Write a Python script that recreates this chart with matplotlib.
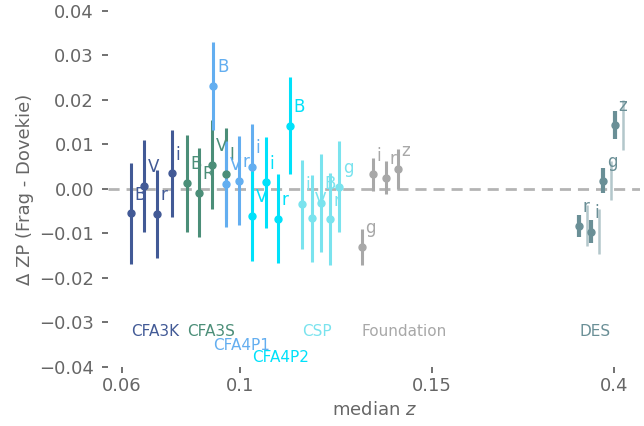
import numpy as np
import matplotlib.pyplot as plt
from matplotlib.transforms import ScaledTranslation

# per-survey zero-point offsets (Frag - Dovekie) vs median redshift
cfa3k_bands = ['B', 'V', 'r', 'i']
cfa3k_z = [0.0631, 0.0676, 0.0720, 0.0769]
cfa3k_dzp = [-0.0055, 0.0007, -0.0056, 0.0035]
cfa3k_err = [0.0114, 0.0103, 0.0098, 0.0098]

cfa3s_bands = ['B', 'R', 'V', 'I']
cfa3s_z = [0.0820, 0.0862, 0.0906, 0.0952]
cfa3s_dzp = [0.0013, -0.0008, 0.0055, 0.0034]
cfa3s_err = [0.0109, 0.0100, 0.0099, 0.0102]

cfa4p1_bands = ['B', 'V', 'r', 'i']
cfa4p1_z = [0.0910, 0.0953, 0.0997, 0.1032]
cfa4p1_dzp = [0.0232, 0.0011, 0.0018, 0.0049]
cfa4p1_err = [0.0099, 0.0097, 0.0100, 0.0097]

cfa4p2_bands = ['V', 'i', 'r', 'B']
cfa4p2_z = [0.1032, 0.1067, 0.1098, 0.1130]
cfa4p2_dzp = [-0.0060, 0.0015, -0.0067, 0.0142]
cfa4p2_err = [0.0101, 0.0102, 0.0100, 0.0109]

csp_bands = ['i', 'V', 'B', 'r', 'g']
csp_z = [0.1162, 0.1187, 0.1210, 0.1234, 0.1259]
csp_dzp = [-0.0034, -0.0066, -0.0031, -0.0068, 0.0005]
csp_err = [0.0100, 0.0098, 0.0110, 0.0103, 0.0102]

found_bands = ['g', 'i', 'r', 'z']
found_z = [0.1317, 0.1347, 0.1379, 0.1411]
found_dzp = [-0.0130, 0.0033, 0.0025, 0.0044]
found_err = [0.0040, 0.0037, 0.0037, 0.0045]

des_bands = ['r', 'i', 'g', 'z']
des_z = [0.3523, 0.3684, 0.3853, 0.4014]
des_dzp = [-0.0083, -0.0096, 0.0019, 0.0144]
des_err = [0.0024, 0.0026, 0.0029, 0.0032]
des_err_tot = [0.0046, 0.0051, 0.0043, 0.0057]

surveys = [
    ('CFA3K', cfa3k_z, cfa3k_dzp, cfa3k_err, cfa3k_bands, '#425a96', -0.0320),
    ('CFA3S', cfa3s_z, cfa3s_dzp, cfa3s_err, cfa3s_bands, '#4b8e78', -0.0320),
    ('CFA4P1', cfa4p1_z, cfa4p1_dzp, cfa4p1_err, cfa4p1_bands, '#63aef0', -0.0351),
    ('CFA4P2', cfa4p2_z, cfa4p2_dzp, cfa4p2_err, cfa4p2_bands, '#00e1fa', -0.0378),
    ('CSP', csp_z, csp_dzp, csp_err, csp_bands, '#7ae3ee', -0.0320),
    ('Foundation', found_z, found_dzp, found_err, found_bands, '#a8a8a8', -0.0320),
    ('DES', des_z, des_dzp, des_err, des_bands, '#6a8f96', -0.0320),
]

# uneven x axis: piecewise-linear between the labelled redshifts
z_knots = [0.0, 0.06, 0.1, 0.15, 0.4, 1.0]
u_knots = [-55, 122, 240, 432, 614, 1051]

def fwd(z):
    return np.interp(z, z_knots, u_knots)

def inv(u):
    return np.interp(u, u_knots, z_knots)

txt = '#666666'
plt.rcParams['text.color'] = txt
plt.rcParams['axes.labelcolor'] = txt
plt.rcParams['xtick.color'] = txt
plt.rcParams['ytick.color'] = txt

fig = plt.figure(figsize=(6.44, 4.26), dpi=100)
ax = fig.add_axes([0.1677, 0.1385, 0.8261, 0.8357])
ax.set_xscale('function', functions=(fwd, inv))

ax.axhline(0, ls='--', color='#b4b4b4', lw=2, dashes=(4, 2.5), zorder=0)

for name, z, dzp, err, bands, col, ylab in surveys:
    lw = 3 if name == 'DES' else 2.2
    ax.errorbar(z, dzp, yerr=err, fmt='o', color=col, ms=5, elinewidth=lw, capsize=0)
    for zi, yi, b in zip(z, dzp, bands):
        ax.annotate(b, (zi, yi), xytext=(2.5, 13.5), textcoords='offset points',
                    ha='left', va='center', color=col, fontsize=12)
    ax.text(min(z), ylab, name, color=col, fontsize=11, ha='left', va='center')

# total uncertainty for DES, drawn slightly to the right
shift = ax.transData + ScaledTranslation(7.5 / 100, 0, fig.dpi_scale_trans)
ax.vlines(des_z, np.array(des_dzp) - np.array(des_err_tot),
          np.array(des_dzp) + np.array(des_err_tot),
          color='#b3c7cb', lw=1.8, transform=shift, zorder=1)

ax.set_xlim(0.05525, 0.4357)
ax.set_ylim(-0.04, 0.04)
ax.set_xticks([0.06, 0.1, 0.15, 0.4])
ax.set_xticklabels(['0.06', '0.1', '0.15', '0.4'])
ax.minorticks_off()
ax.set_yticks(np.arange(-0.04, 0.041, 0.01))
ax.tick_params(axis='both', labelsize=13, length=4, width=1.3)
ax.tick_params(axis='y', pad=6)
for s in ax.spines.values():
    s.set_visible(False)

ax.set_xlabel('median $z$', fontsize=13)
ax.set_ylabel('Δ ZP (Frag - Dovekie)', fontsize=13)

fig.savefig('out.png', dpi=100)
